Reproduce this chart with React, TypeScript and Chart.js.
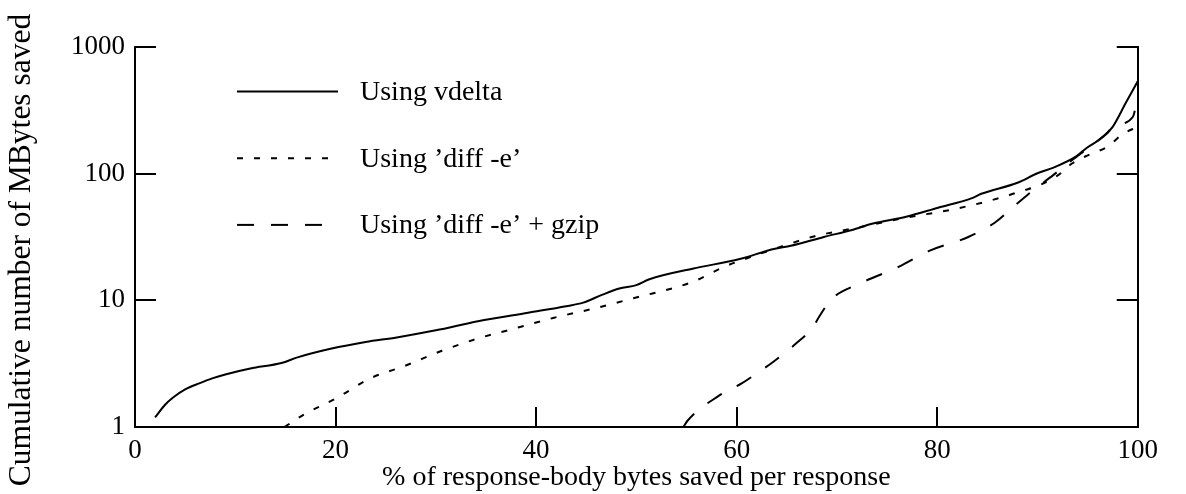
import React, { useEffect, useRef } from 'react';
import { Chart, registerables } from 'chart.js';

Chart.register(...registerables);

const FONT = '"Liberation Serif", "Times New Roman", Times, serif';

// % of response-body bytes saved (x) vs cumulative MBytes saved (y)
const vdeltaX = [2.0, 3.0, 3.8, 5.0, 6.4, 7.7, 9.0, 11.5, 14.6, 16.2, 19.5, 23.0, 26.1, 30.0, 34.2, 39.2, 43.0, 44.7, 46.5, 48.3, 50.0, 51.3, 55.6, 60.3, 63.7, 65.4, 68.7, 71.5, 73.6, 76.9, 80.1, 83.4, 84.4, 88.0, 90.0, 91.6, 93.9, 94.9, 96.5, 97.5, 98.8, 100];
const vdeltaY = [1.19, 1.5, 1.71, 1.98, 2.21, 2.42, 2.6, 2.9, 3.2, 3.55, 4.15, 4.7, 5.1, 5.8, 6.85, 8.0, 9.0, 9.6, 11.0, 12.4, 13.2, 14.7, 17.8, 21.2, 25.5, 27.0, 31.7, 36.0, 40.5, 45.8, 54.0, 64.0, 69.5, 85.0, 101, 112, 138, 160, 194, 235, 362, 538];

const diffX = [14.9, 16.9, 20.2, 23.4, 27.0, 30.6, 34.2, 38.2, 41.8, 45.7, 49.7, 55.6, 58.8, 62.1, 64.7, 67.7, 71.6, 76.9, 81.8, 86.7, 88.5, 90.0, 92.1, 93.4, 95.2, 97.0, 98.5, 100];
const diffY = [1.0, 1.26, 1.71, 2.41, 3.06, 4.0, 5.0, 6.1, 7.3, 8.6, 10.4, 14.0, 18.5, 23.0, 27.0, 32.0, 37.0, 45.0, 52.8, 66.0, 73.5, 80.0, 98.0, 120, 142, 164, 206, 235];

const gzipX = [54.7, 55.1, 58.2, 60.5, 62.0, 63.7, 66.0, 67.5, 68.3, 69.0, 69.8, 71.9, 76.2, 79.2, 83.1, 85.7, 87.7, 89.0, 90.0, 91.6, 93.6, 95.5, 96.8, 97.7, 99.5, 100];
const gzipY = [1.0, 1.12, 1.76, 2.21, 2.65, 3.29, 4.62, 6.0, 7.6, 9.2, 10.8, 13.2, 18.5, 24.6, 31.7, 40.9, 55.8, 68.1, 78.4, 98.0, 131, 170, 205, 240, 281, 405];

const seriesLabels = ['Using vdelta', 'Using \u2019diff -e\u2019', 'Using \u2019diff -e\u2019 + gzip'];
const seriesDashes = [[], [6, 11], [17, 17]];

const xTickValues = [0, 20, 40, 60, 80, 100];
const yTickValues = [1, 10, 100, 1000];

const xTitle = '% of response-body bytes saved per response';
const yTitle = 'Cumulative number of MBytes saved';

const toPoints = (xs: number[], ys: number[]) => xs.map((x, i) => ({ x, y: ys[i] }));

const decorPlugin = {
  id: 'paperDecor',
  afterDraw(chart: any) {
    const ctx = chart.ctx as CanvasRenderingContext2D;
    // rotated y-axis title
    ctx.save();
    ctx.font = `31.5px ${FONT}`;
    ctx.fillStyle = '#000';
    ctx.translate(22, 250);
    ctx.rotate(-Math.PI / 2);
    ctx.textAlign = 'center';
    ctx.textBaseline = 'middle';
    ctx.fillText(yTitle, 0, 0);
    ctx.restore();
    // legend inside plot
    chart.data.datasets.forEach((ds: any, i: number) => {
      const y = 91.5 + i * 66.7;
      ctx.save();
      ctx.strokeStyle = ds.borderColor;
      ctx.lineWidth = ds.borderWidth;
      ctx.setLineDash(ds.borderDash || []);
      ctx.beginPath();
      ctx.moveTo(237, y);
      ctx.lineTo(338, y);
      ctx.stroke();
      ctx.setLineDash([]);
      ctx.font = `28px ${FONT}`;
      ctx.fillStyle = '#000';
      ctx.textAlign = 'left';
      ctx.textBaseline = 'middle';
      ctx.fillText(ds.label, 360, y + 1);
      ctx.restore();
    });
  },
};

export default function App() {
  const canvasRef = useRef<HTMLCanvasElement | null>(null);

  useEffect(() => {
    document.body.style.margin = '0';
    const canvas = canvasRef.current;
    if (!canvas) return;
    const series = [
      toPoints(vdeltaX, vdeltaY),
      toPoints(diffX, diffY),
      toPoints(gzipX, gzipY),
    ];
    const chart = new Chart(canvas, {
      type: 'line',
      data: {
        datasets: series.map((data, i) => ({
          label: seriesLabels[i],
          data,
          borderColor: '#000',
          backgroundColor: '#000',
          borderWidth: 2,
          borderDash: seriesDashes[i],
          pointRadius: 0,
          fill: false,
          cubicInterpolationMode: 'monotone' as const,
          yAxisID: 'y',
        })),
      },
      options: {
        responsive: false,
        animation: false,
        devicePixelRatio: 1,
        layout: { padding: { left: 0, top: 20, right: 0, bottom: 0 } },
        plugins: {
          legend: { display: false },
          tooltip: { enabled: false },
          title: { display: false },
        },
        scales: {
          x: {
            type: 'linear',
            position: 'bottom',
            min: 0,
            max: 100,
            afterBuildTicks: (scale: any) => {
              scale.ticks = xTickValues.map((value) => ({ value }));
            },
            afterFit: (scale: any) => {
              scale.height = 67;
            },
            ticks: {
              font: { family: FONT, size: 27 },
              color: '#000',
              padding: 28,
              maxRotation: 0,
              callback: (v: any) => String(v),
            },
            grid: {
              display: true,
              drawOnChartArea: false,
              drawTicks: true,
              tickLength: -20,
              color: '#000',
              lineWidth: 2,
            },
            border: { display: true, color: '#000', width: 2 },
            title: {
              display: true,
              text: xTitle,
              color: '#000',
              font: { family: FONT, size: 28 },
              padding: { top: 0, bottom: 0 },
            },
          },
          y: {
            type: 'logarithmic',
            position: 'left',
            min: 1,
            max: 1000,
            afterBuildTicks: (scale: any) => {
              scale.ticks = yTickValues.map((value) => ({ value }));
            },
            afterFit: (scale: any) => {
              scale.width = 135;
            },
            ticks: {
              font: { family: FONT, size: 27 },
              color: '#000',
              padding: 31,
              callback: (v: any) => String(v),
            },
            grid: {
              display: true,
              drawOnChartArea: false,
              drawTicks: true,
              tickLength: -21,
              color: '#000',
              lineWidth: 2,
            },
            border: { display: true, color: '#000', width: 2 },
          },
          y2: {
            type: 'logarithmic',
            position: 'right',
            display: true,
            min: 1,
            max: 1000,
            afterBuildTicks: (scale: any) => {
              scale.ticks = yTickValues.map((value) => ({ value }));
            },
            afterFit: (scale: any) => {
              scale.width = 34;
            },
            ticks: { display: false },
            grid: {
              display: true,
              drawOnChartArea: false,
              drawTicks: true,
              tickLength: -21,
              color: '#000',
              lineWidth: 2,
            },
            border: { display: true, color: '#000', width: 2 },
          },
        },
      },
      plugins: [decorPlugin],
    } as any);
    return () => chart.destroy();
  }, []);

  return (
    <div style={{ width: 1186, height: 494, background: '#fff' }}>
      <canvas ref={canvasRef} width={1186} height={494} style={{ display: 'block' }} />
    </div>
  );
}
